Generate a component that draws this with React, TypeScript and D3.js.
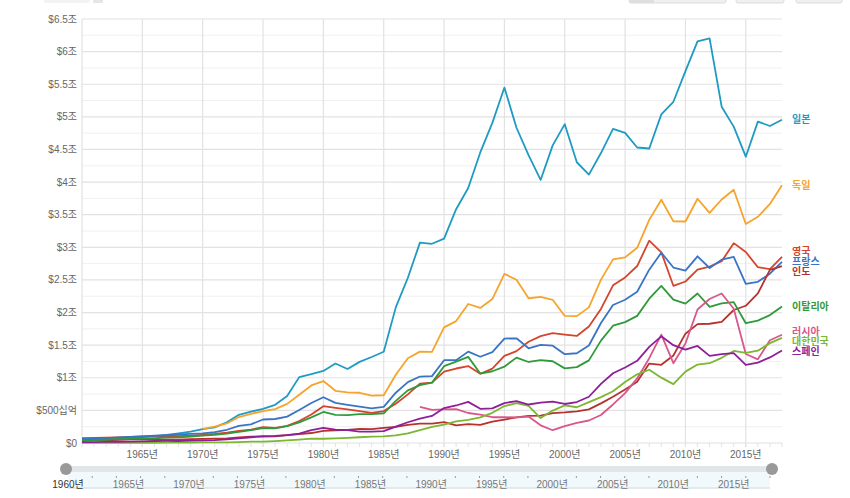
import * as d3 from 'd3';

// GDP in US$ trillions, by year (1960-2018)
const years = d3.range(1960, 2019);

const japan = [0.044, 0.054, 0.061, 0.070, 0.082, 0.091, 0.106, 0.124, 0.147, 0.173, 0.213, 0.240, 0.318, 0.433, 0.480, 0.522, 0.586, 0.722, 1.010, 1.056, 1.105, 1.218, 1.135, 1.244, 1.318, 1.399, 2.079, 2.533, 3.072, 3.054, 3.133, 3.584, 3.909, 4.454, 4.907, 5.449, 4.833, 4.414, 4.033, 4.562, 4.888, 4.304, 4.115, 4.445, 4.815, 4.755, 4.530, 4.515, 5.038, 5.231, 5.700, 6.157, 6.203, 5.156, 4.850, 4.389, 4.927, 4.860, 4.955];
const germany = [null, null, null, null, null, null, null, null, null, null, 0.216, 0.250, 0.300, 0.398, 0.446, 0.489, 0.520, 0.600, 0.740, 0.882, 0.950, 0.800, 0.777, 0.770, 0.725, 0.732, 1.046, 1.298, 1.401, 1.398, 1.772, 1.869, 2.131, 2.071, 2.206, 2.592, 2.503, 2.219, 2.240, 2.196, 1.948, 1.945, 2.079, 2.505, 2.815, 2.846, 2.992, 3.421, 3.730, 3.398, 3.396, 3.744, 3.527, 3.733, 3.883, 3.357, 3.467, 3.665, 3.951];
const uk = [0.073, 0.077, 0.081, 0.086, 0.094, 0.100, 0.106, 0.111, 0.104, 0.112, 0.125, 0.140, 0.160, 0.186, 0.206, 0.242, 0.233, 0.263, 0.336, 0.438, 0.565, 0.540, 0.515, 0.489, 0.462, 0.489, 0.601, 0.745, 0.910, 0.926, 1.093, 1.142, 1.179, 1.061, 1.140, 1.335, 1.409, 1.553, 1.639, 1.684, 1.662, 1.641, 1.785, 2.055, 2.417, 2.539, 2.713, 3.101, 2.923, 2.410, 2.476, 2.659, 2.705, 2.786, 3.064, 2.928, 2.695, 2.666, 2.855];
const france = [0.062, 0.068, 0.076, 0.085, 0.094, 0.102, 0.111, 0.119, 0.130, 0.141, 0.148, 0.165, 0.203, 0.264, 0.286, 0.360, 0.368, 0.404, 0.506, 0.613, 0.701, 0.615, 0.585, 0.558, 0.531, 0.553, 0.771, 0.934, 1.019, 1.025, 1.269, 1.269, 1.401, 1.322, 1.393, 1.601, 1.605, 1.452, 1.503, 1.492, 1.362, 1.376, 1.494, 1.840, 2.116, 2.196, 2.319, 2.657, 2.918, 2.690, 2.643, 2.862, 2.683, 2.811, 2.852, 2.438, 2.471, 2.595, 2.778];
const india = [0.037, 0.039, 0.042, 0.048, 0.056, 0.059, 0.046, 0.050, 0.053, 0.058, 0.062, 0.067, 0.071, 0.085, 0.099, 0.098, 0.102, 0.121, 0.137, 0.153, 0.186, 0.193, 0.201, 0.218, 0.212, 0.232, 0.248, 0.279, 0.296, 0.296, 0.321, 0.270, 0.288, 0.279, 0.327, 0.360, 0.393, 0.415, 0.421, 0.459, 0.468, 0.485, 0.515, 0.608, 0.709, 0.820, 0.940, 1.217, 1.199, 1.342, 1.676, 1.823, 1.828, 1.857, 2.039, 2.104, 2.295, 2.653, 2.713];
const italy = [0.040, 0.045, 0.050, 0.058, 0.063, 0.067, 0.073, 0.081, 0.087, 0.097, 0.113, 0.124, 0.144, 0.170, 0.199, 0.227, 0.223, 0.257, 0.315, 0.393, 0.476, 0.430, 0.428, 0.442, 0.443, 0.456, 0.645, 0.807, 0.887, 0.926, 1.178, 1.248, 1.320, 1.064, 1.100, 1.170, 1.309, 1.242, 1.271, 1.253, 1.144, 1.163, 1.267, 1.569, 1.798, 1.853, 1.949, 2.213, 2.408, 2.199, 2.137, 2.292, 2.088, 2.141, 2.159, 1.836, 1.877, 1.961, 2.092];
const russia = [null, null, null, null, null, null, null, null, null, null, null, null, null, null, null, null, null, null, null, null, null, null, null, null, null, null, null, null, 0.555, 0.507, 0.517, 0.518, 0.460, 0.435, 0.395, 0.396, 0.392, 0.405, 0.271, 0.196, 0.260, 0.307, 0.345, 0.430, 0.591, 0.764, 0.990, 1.300, 1.661, 1.223, 1.525, 2.046, 2.208, 2.292, 2.059, 1.364, 1.283, 1.575, 1.660];
const korea = [0.004, 0.002, 0.003, 0.004, 0.003, 0.003, 0.004, 0.005, 0.006, 0.008, 0.009, 0.010, 0.011, 0.014, 0.020, 0.022, 0.030, 0.039, 0.052, 0.066, 0.065, 0.072, 0.078, 0.088, 0.097, 0.101, 0.116, 0.147, 0.197, 0.246, 0.283, 0.330, 0.356, 0.392, 0.463, 0.566, 0.610, 0.570, 0.383, 0.497, 0.576, 0.548, 0.627, 0.703, 0.793, 0.935, 1.053, 1.123, 1.002, 0.902, 1.094, 1.202, 1.223, 1.306, 1.411, 1.383, 1.415, 1.531, 1.612];
const spain = [0.012, 0.014, 0.016, 0.019, 0.022, 0.025, 0.029, 0.032, 0.031, 0.036, 0.040, 0.045, 0.055, 0.072, 0.088, 0.106, 0.108, 0.120, 0.144, 0.198, 0.233, 0.203, 0.198, 0.173, 0.173, 0.181, 0.251, 0.318, 0.375, 0.415, 0.536, 0.575, 0.630, 0.524, 0.530, 0.612, 0.643, 0.590, 0.619, 0.635, 0.598, 0.628, 0.709, 0.907, 1.069, 1.157, 1.260, 1.474, 1.635, 1.499, 1.431, 1.488, 1.336, 1.362, 1.379, 1.196, 1.233, 1.312, 1.419];

const countryNames = ['일본', '독일', '영국', '프랑스', '인도', '이탈리아', '러시아', '대한민국', '스페인'];
const countryValues = [japan, germany, uk, france, india, italy, russia, korea, spain];
const countryColors = ['#1f9bc3', '#f6a42b', '#d4452d', '#3a74c6', '#b5322e', '#2f9a3a', '#d9578b', '#7bb72f', '#8e1f98'];

const yTickValues = d3.range(0, 6.51, 0.5);
const yTickLabels = ['$0', '$500십억', '$1조', '$1.5조', '$2조', '$2.5조', '$3조', '$3.5조', '$4조', '$4.5조', '$5조', '$5.5조', '$6조', '$6.5조'];
const xTickYears = [1965, 1970, 1975, 1980, 1985, 1990, 1995, 2000, 2005, 2010, 2015];

const W = 850;
const H = 498;
const FONT = '"Liberation Sans", "Noto Sans CJK KR", Arial, sans-serif';

export default function App() {
  const x = d3.scaleLinear().domain([1960, 2018]).range([82, 782]);
  const y = d3.scaleLinear().domain([0, 6.5]).range([443, 19]);
  const sx = d3.scaleLinear().domain([1960, 2018]).range([68, 770]);

  const line = d3
    .line<number | null>()
    .defined((d) => d != null)
    .x((_, i) => x(years[i]))
    .y((d) => y(d as number));

  // end labels, nudged apart so they don't overlap
  const labels = countryNames.map((name, i) => {
    const vals = countryValues[i];
    return { name, color: countryColors[i], y: y(vals[vals.length - 1] as number) };
  });
  const sorted = [...labels].sort((a, b) => a.y - b.y);
  for (let iter = 0; iter < 50; iter++) {
    for (let i = 1; i < sorted.length; i++) {
      const gap = sorted[i].y - sorted[i - 1].y;
      if (gap < 10) {
        const push = (10 - gap) / 2;
        sorted[i].y += push;
        sorted[i - 1].y -= push;
      }
    }
  }

  const minorGrid = d3.range(0.25, 6.5, 0.5);

  return (
    <div style={{ position: 'absolute', left: 0, top: 0 }}>
      <svg width={W} height={H} style={{ display: 'block', fontFamily: FONT }}>
        <rect width={W} height={H} fill="#fff" />
        {/* clipped controls at the very top */}
        <rect x={44} y={-6} width={46} height={9} rx={2} fill="#f3f3f3" />
        <rect x={93} y={-6} width={10} height={9} rx={1} fill="#e6e6e6" />
        <rect x={629} y={-6} width={97} height={9} rx={2} fill="#f0f0f0" stroke="#dcdcdc" />
        <rect x={630} y={-6} width={24} height={9} fill="#dedede" />
        <rect x={736} y={-6} width={48} height={9} rx={2} fill="#f0f0f0" stroke="#dcdcdc" />
        <rect x={796} y={-6} width={46} height={9} rx={2} fill="#f0f0f0" stroke="#dcdcdc" />

        {/* grid */}
        {minorGrid.map((v) => (
          <line key={'m' + v} x1={82} x2={782} y1={y(v)} y2={y(v)} stroke="#f0f0f0" strokeWidth={1} />
        ))}
        {yTickValues.map((v) => (
          <line key={'g' + v} x1={82} x2={782} y1={y(v)} y2={y(v)} stroke="#e2e2e2" strokeWidth={1.2} />
        ))}
        <line x1={x(1960)} x2={x(1960)} y1={19} y2={443} stroke="#e2e2e2" strokeWidth={1.2} />
        {xTickYears.map((yr) => (
          <line key={'v' + yr} x1={x(yr)} x2={x(yr)} y1={19} y2={447} stroke="#e2e2e2" strokeWidth={1.2} />
        ))}
        {years.map((yr) => (
          <line key={'t' + yr} x1={x(yr)} x2={x(yr)} y1={443} y2={447} stroke="#e2e2e2" strokeWidth={1} />
        ))}

        {/* y labels */}
        {yTickValues.map((v, i) => (
          <text key={'yl' + v} x={77} y={y(v)} dy="0.35em" textAnchor="end" fontSize={10} fill="#666">
            {yTickLabels[i]}
          </text>
        ))}
        {/* x labels */}
        {xTickYears.map((yr) => (
          <text key={'xl' + yr} x={x(yr)} y={458} textAnchor="middle" fontSize={10} fill="#666">
            {yr}년
          </text>
        ))}

        {/* series */}
        {countryValues.map((vals, i) => (
          <path key={countryNames[i]} d={line(vals) || ''} fill="none" stroke={countryColors[i]} strokeWidth={1.8} strokeLinejoin="round" />
        ))}
        {labels.map((l) => (
          <text key={'lab' + l.name} x={792} y={l.y} dy="0.35em" fontSize={10} fontWeight="bold" fill={l.color}>
            {l.name}
          </text>
        ))}

        {/* range slider */}
        <rect x={sx(1960)} y={472} width={sx(2018) - sx(1960)} height={16} fill="#f1f9fc" />
        <line x1={sx(1960)} x2={sx(2018)} y1={488} y2={488} stroke="#dde3e6" strokeWidth={1.5} />
        <rect x={sx(1960)} y={466} width={sx(2018) - sx(1960)} height={6} fill="#e2e6e8" />
        {years
          .filter((yr) => yr % 5 !== 0 && yr % 2 === 0)
          .map((yr) => (
            <line key={'st' + yr} x1={sx(yr)} x2={sx(yr)} y1={476} y2={478} stroke="#999" strokeWidth={1} />
          ))}
        {[1960, ...xTickYears].map((yr) => (
          <text key={'sl' + yr} x={sx(yr)} y={488} textAnchor="middle" fontSize={10} fill={yr === 1960 ? '#333' : '#777'}>
            {yr}년
          </text>
        ))}
        <circle cx={sx(1960) - 2} cy={469} r={6} fill="#999" />
        <circle cx={sx(2018) + 2} cy={469} r={6} fill="#999" />
      </svg>
    </div>
  );
}
